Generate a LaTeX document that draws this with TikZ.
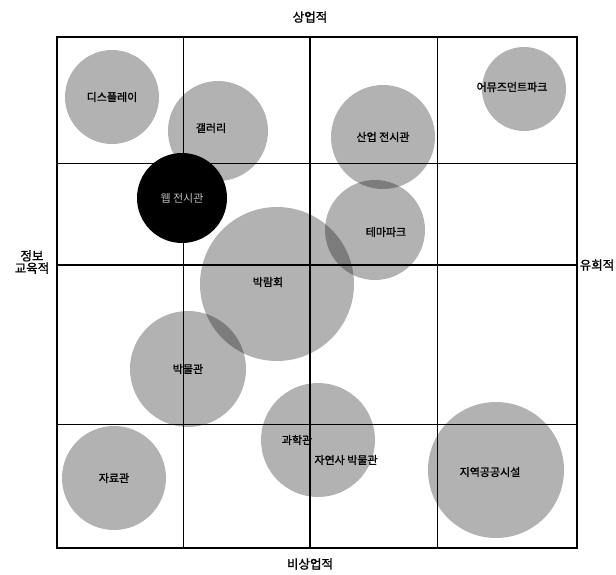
\documentclass[tikz,border=0pt]{standalone}
\usepackage{fontspec}
\setmainfont{Noto Sans CJK KR}[AutoFakeBold=1.5]

\tikzset{
  bubble/.style={circle, inner sep=0pt, fill=black, fill opacity=0.3,
    text opacity=1, font=\fontsize{11}{12}\selectfont\bfseries},
  tag/.style={font=\fontsize{11}{12}\selectfont\bfseries, inner sep=1pt},
  axislabel/.style={font=\fontsize{12.5}{11}\selectfont\bfseries, inner sep=1pt, align=center}
}

\begin{document}
\begin{tikzpicture}[x=1pt, y=-1pt]
    \useasboundingbox (0,0) rectangle (616,575);

    % Grid
    \draw[thin] (183,37) -- (183,548);
    \draw[thin] (437,37) -- (437,548);
    \draw[thin] (57,163) -- (577,163);
    \draw[thin] (57,424) -- (577,424);

    % Axes
    \draw[line width=1.8pt] (310,37) -- (310,548);
    \draw[line width=1.8pt] (57,265) -- (577,265);

    % Frame
    \draw[line width=2pt] (57,37) rectangle (577,548);

    % Axis labels
    \node[axislabel] (top) at (310,17) {상업적};
    \node[axislabel] (bottom) at (310,564) {비상업적};
    \node[axislabel] (left) at (32,262) {정보\\교육적};
    \node[axislabel] (right) at (597,265) {유희적};

    % Bubbles
    \node[bubble, minimum size=94pt] (display) at (112,97) {디스플레이};
    \node[bubble, minimum size=100pt] (gallery) at (218,131) {};
    \node[tag] (galleryT) at (211,128) {갤러리};
    \node[bubble, minimum size=104pt] (industry) at (383,137) {산업 전시관};
    \node[bubble, minimum size=84pt] (amuse) at (524,89) {};
    \node[tag] (amuseT) at (512,87) {어뮤즈먼트파크};
    \node[bubble, minimum size=100pt] (theme) at (375,230) {};
    \node[tag] (themeT) at (386,232) {테마파크};
    \node[bubble, minimum size=154pt] (expo) at (277,284) {};
    \node[tag] (expoT) at (268,282) {박람회};
    \node[bubble, minimum size=116pt] (museum) at (188,369) {박물관};
    \node[bubble, minimum size=104pt] (archive) at (114,478) {자료관};
    \node[bubble, minimum size=114pt] (science) at (318,440) {};
    \node[tag] (scienceT) at (297,440) {과학관};
    \node[tag] (naturalT) at (346,460) {자연사 박물관};
    \node[bubble, minimum size=136pt] (public) at (496,470) {};
    \node[tag] (publicT) at (490,472) {지역공공시설};

    % Web hall
    \node[circle, inner sep=0pt, fill=black, minimum size=90pt,
      text=black!25, font=\fontsize{11}{12}\selectfont] (web) at (182,198) {웹 전시관};
\end{tikzpicture}
\end{document}
